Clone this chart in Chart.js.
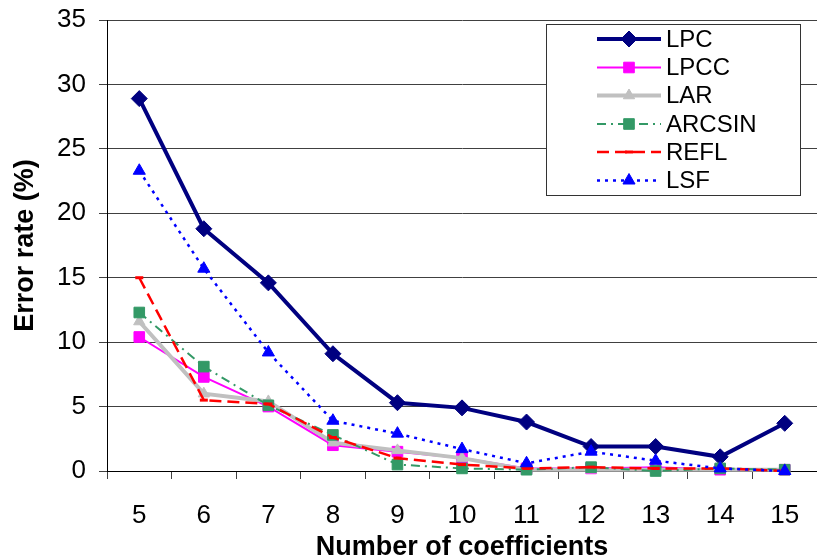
<!DOCTYPE html>
<html>
<head>
<meta charset="utf-8">
<script src="https://cdn.jsdelivr.net/npm/chart.js@4/dist/chart.umd.min.js"></script>
<style>
  html, body { margin: 0; padding: 0; background: #fff; overflow: hidden; }
  canvas { display: block; }
</style>
</head>
<body>
<canvas id="errChart" width="826" height="558"></canvas>
<script>
const coefficients = ['5', '6', '7', '8', '9', '10', '11', '12', '13', '14', '15'];
const lpc = [28.9, 18.8, 14.6, 9.1, 5.3, 4.9, 3.8, 1.9, 1.9, 1.1, 3.7];
const lpcc = [10.4, 7.3, 5.0, 2.0, 1.5, 1.0, 0.2, 0.2, 0.3, 0.1, 0.1];
const lar = [11.6, 6.0, 5.4, 2.2, 1.6, 1.0, 0.1, 0.1, 0.1, 0.1, 0.1];
const arcsin = [12.3, 8.1, 5.1, 2.8, 0.5, 0.2, 0.1, 0.3, 0.0, 0.2, 0.1];
const refl = [15.0, 5.5, 5.2, 2.6, 1.0, 0.5, 0.2, 0.3, 0.2, 0.2, 0.0];
const lsf = [23.3, 15.7, 9.2, 3.9, 2.9, 1.7, 0.6, 1.5, 0.8, 0.2, 0.0];
const yTicks = [0, 5, 10, 15, 20, 25, 30, 35];

const FONT = "'Liberation Sans', Arial, sans-serif";

function series(label, data, color, width, dash, style, radius, order) {
    return {
        label: label,
        data: data,
        borderColor: color,
        backgroundColor: color,
        borderWidth: width,
        borderDash: dash,
        pointStyle: style,
        pointRadius: radius,
        pointHoverRadius: radius,
        pointBorderWidth: style === 'line' ? 3 : 1,
        pointBackgroundColor: color,
        pointBorderColor: color,
        tension: 0,
        clip: false,
        order: order
    };
}

// legend drawn inside the plot, like the original
const boxLegend = {
    id: 'boxLegend',
    afterDraw(chart) {
        const ctx = chart.ctx;
        ctx.save();
        ctx.fillStyle = '#fff';
        ctx.fillRect(546.5, 24.5, 254, 171);
        ctx.strokeStyle = '#333';
        ctx.lineWidth = 1;
        ctx.strokeRect(546.5, 24.5, 254, 171);
        const rows = [39, 67.5, 95.5, 124, 152, 180.5];
        chart.data.datasets.forEach((ds, i) => {
            const y = rows[i];
            ctx.save();
            ctx.strokeStyle = ds.borderColor;
            ctx.lineWidth = ds.borderWidth;
            ctx.setLineDash(ds.borderDash || []);
            ctx.beginPath();
            ctx.moveTo(597, y);
            ctx.lineTo(661, y);
            ctx.stroke();
            ctx.setLineDash([]);
            ctx.fillStyle = ds.pointBackgroundColor;
            ctx.strokeStyle = ds.pointBorderColor;
            ctx.lineWidth = ds.pointBorderWidth;
            Chart.helpers.drawPoint(ctx, {
                pointStyle: ds.pointStyle,
                radius: ds.pointRadius,
                borderWidth: ds.pointBorderWidth,
                rotation: 0
            }, 629, y);
            ctx.restore();
            ctx.fillStyle = '#000';
            ctx.font = '24px ' + FONT;
            ctx.textBaseline = 'middle';
            ctx.fillText(ds.label, 666, y + 1);
        });
        ctx.restore();
    }
};

new Chart(document.getElementById('errChart'), {
    type: 'line',
    data: {
        labels: coefficients,
        datasets: [
            series('LPC', lpc, '#000080', 4, [], 'rectRot', 8, 6),
            series('LPCC', lpcc, '#FF00FF', 2, [], 'rect', 7.5, 5),
            series('LAR', lar, '#C0C0C0', 4, [], 'triangle', 6.5, 4),
            series('ARCSIN', arcsin, '#339966', 2, [9, 5, 2, 5], 'rect', 7.5, 3),
            series('REFL', refl, '#FF0000', 2.5, [12, 6], 'line', 4, 2),
            series('LSF', lsf, '#0000FF', 2.5, [3, 5], 'triangle', 7, 1)
        ]
    },
    options: {
        responsive: false,
        animation: false,
        layout: { padding: { top: 20, right: 1, left: 0, bottom: 0 } },
        plugins: {
            legend: { display: false },
            tooltip: { enabled: false }
        },
        scales: {
            x: {
                offset: true,
                grid: {
                    offset: true,
                    drawOnChartArea: false,
                    drawTicks: true,
                    tickLength: 8,
                    color: '#404040'
                },
                border: { color: '#000', width: 1 },
                ticks: {
                    color: '#000',
                    font: { family: FONT, size: 26 },
                    padding: 21,
                    maxRotation: 0
                },
                title: {
                    display: true,
                    text: 'Number of coefficients',
                    color: '#000',
                    font: { family: FONT, size: 27, weight: 'bold', lineHeight: 0.78 },
                    padding: { top: 0, bottom: 0 }
                },
                afterFit(scale) {
                    scale.height = 87;
                    scale.paddingLeft = 0;
                    scale.paddingRight = 0;
                }
            },
            y: {
                min: 0,
                max: 35,
                afterBuildTicks(scale) { scale.ticks = yTicks.map(v => ({ value: v })); },
                grid: {
                    color: '#404040',
                    tickLength: 8
                },
                border: { color: '#000', width: 1 },
                ticks: {
                    color: '#000',
                    font: { family: FONT, size: 26 },
                    padding: 13
                },
                title: {
                    display: true,
                    text: 'Error rate (%)',
                    color: '#000',
                    font: { family: FONT, size: 27, weight: 'bold', lineHeight: 1 },
                    padding: { top: 12, bottom: 0 }
                },
                afterFit(scale) {
                    scale.width = 107;
                    scale.paddingTop = 0;
                    scale.paddingBottom = 0;
                }
            }
        }
    },
    plugins: [boxLegend]
});
</script>
</body>
</html>
